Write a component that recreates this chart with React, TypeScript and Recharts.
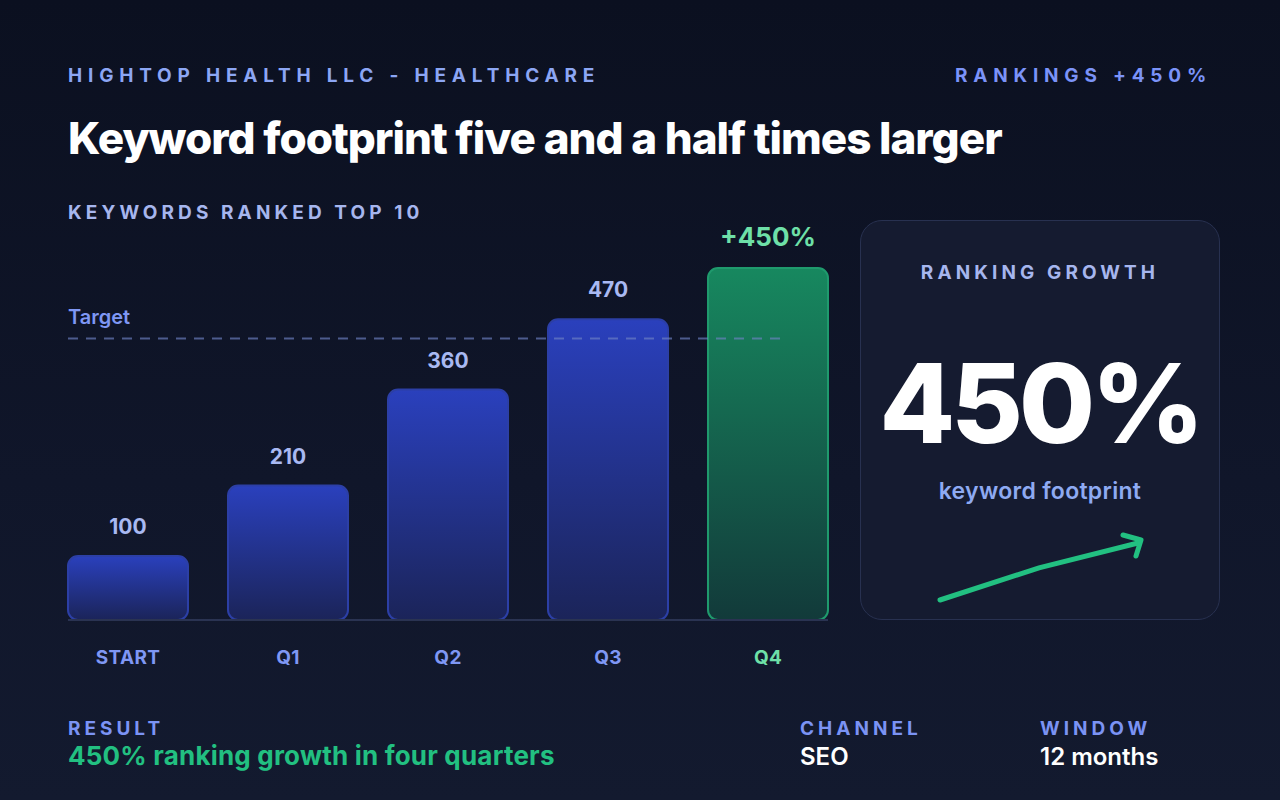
import React from "react";
import {
  Bar,
  BarChart,
  Cell,
  LabelList,
  Line,
  LineChart,
  ReferenceLine,
  XAxis,
  YAxis,
} from "recharts";

const quarters = ["START", "Q1", "Q2", "Q3", "Q4"];
const keywords = [100, 210, 360, 470, 550];
const target = 440;
const trend = [1, 1.9, 2.6];

const data = quarters.map((q, i) => ({ q, v: keywords[i] }));
const trendData = trend.map((t, i) => ({ i, t }));
const growth = Math.round(((keywords[4] - keywords[0]) / keywords[0]) * 100);

const font = "Inter, 'Noto Sans', sans-serif";
const green = "#22c081";
const eyebrow = {
  fontFamily: font,
  fontWeight: 700,
  fontSize: 19,
  letterSpacing: 5.8,
  margin: 0,
  position: "absolute" as const,
  whiteSpace: "nowrap" as const,
};

function BarLabel(props: any) {
  const { x, y, width, value, index } = props;
  const last = index === keywords.length - 1;
  return (
    <text
      x={x + width / 2}
      y={y - 22}
      textAnchor="middle"
      fontFamily={font}
      fontWeight={700}
      fontSize={last ? 26 : 21}
      fill={last ? "#6ee0a8" : "#a9b9f2"}
    >
      {last ? `+${growth}%` : value}
    </text>
  );
}

function QuarterTick(props: any) {
  const { x, y, payload, index } = props;
  const last = index === quarters.length - 1;
  return (
    <text
      x={x}
      y={y + 36}
      textAnchor="middle"
      fontFamily={font}
      fontWeight={700}
      fontSize={19}
      letterSpacing={0.3}
      fill={last ? "#6ee0a8" : "#7f97f4"}
    >
      {payload.value}
    </text>
  );
}

function TargetLine(props: any) {
  const { x1, x2, y1 } = props;
  return (
    <g>
      <line
        x1={x1 + 20}
        x2={x2 - 68}
        y1={y1}
        y2={y1}
        stroke="#6f82c4"
        strokeOpacity={0.65}
        strokeWidth={2}
        strokeDasharray="10 8"
      />
      <text x={x1 + 20} y={y1 - 14} fontFamily={font} fontWeight={600} fontSize={20} fill="#7f97f4">
        Target
      </text>
    </g>
  );
}

function BaseLine(props: any) {
  const { x1, x2, y1 } = props;
  return <line x1={x1 + 20} x2={x2 - 20} y1={y1} y2={y1} stroke="#2a3352" strokeWidth={2} />;
}

function ArrowDot(props: any) {
  const { cx, cy, index } = props;
  if (index !== trend.length - 1) return <g key={`d${index}`} />;
  return (
    <polyline
      key={`d${index}`}
      points={`${cx - 15},${cy - 8} ${cx + 3},${cy - 3} ${cx - 2},${cy + 13}`}
      fill="none"
      stroke={green}
      strokeWidth={5}
      strokeLinecap="round"
      strokeLinejoin="round"
    />
  );
}

export default function App() {
  return (
    <div
      style={{
        position: "absolute",
        left: 0,
        top: 0,
        width: 1280,
        height: 800,
        overflow: "hidden",
        background: "linear-gradient(180deg, #0b1020 0%, #10162a 60%, #131a2f 100%)",
        fontFamily: font,
      }}
    >
      <div style={{ ...eyebrow, left: 68, top: 64, color: "#8ca6f4" }}>HIGHTOP HEALTH LLC - HEALTHCARE</div>
      <div style={{ ...eyebrow, right: 68, top: 64, color: "#7b93f8" }}>RANKINGS +{growth}%</div>
      <div
        style={{
          position: "absolute",
          left: 68,
          top: 111,
          fontSize: 44,
          fontWeight: 800,
          letterSpacing: -1,
          color: "#ffffff",
          whiteSpace: "nowrap",
        }}
      >
        Keyword footprint five and a half times larger
      </div>
      <div style={{ ...eyebrow, left: 68, top: 201, color: "#a6b6ee", letterSpacing: 4.1 }}>
        KEYWORDS RANKED TOP 10
      </div>

      <div style={{ position: "absolute", left: 48, top: 200 }}>
        <BarChart width={800} height={480} data={data} margin={{ top: 36, right: 0, bottom: 0, left: 0 }}>
          <defs>
            <linearGradient id="blue-bar" x1="0" y1="0" x2="0" y2="1">
              <stop offset="0%" stopColor="#2a40bd" />
              <stop offset="100%" stopColor="#1b2459" />
            </linearGradient>
            <linearGradient id="green-bar" x1="0" y1="0" x2="0" y2="1">
              <stop offset="0%" stopColor="#17885f" />
              <stop offset="100%" stopColor="#123a3a" />
            </linearGradient>
          </defs>
          <XAxis
            dataKey="q"
            axisLine={false}
            tickLine={false}
            height={60}
            interval={0}
            tick={<QuarterTick />}
          />
          <YAxis hide domain={[0, 600]} />
          <ReferenceLine y={0} shape={<BaseLine />} />
          <Bar dataKey="v" barSize={120} radius={10} strokeWidth={2} isAnimationActive={false}>
            {data.map((d, i) => (
              <Cell
                key={d.q}
                fill={i === data.length - 1 ? "url(#green-bar)" : "url(#blue-bar)"}
                stroke={i === data.length - 1 ? "#1f9a6d" : "#2c3fa6"}
              />
            ))}
            <LabelList dataKey="v" content={<BarLabel />} />
          </Bar>
          <ReferenceLine y={target} shape={<TargetLine />} />
        </BarChart>
      </div>

      <div
        style={{
          position: "absolute",
          left: 860,
          top: 220,
          width: 360,
          height: 400,
          boxSizing: "border-box",
          borderRadius: 22,
          background: "#151b30",
          border: "1.5px solid #283150",
        }}
      >
        <div
          style={{
            position: "absolute",
            top: 40,
            width: "100%",
            textAlign: "center",
            fontSize: 19,
            fontWeight: 700,
            letterSpacing: 4.1,
            color: "#a6b6ee",
          }}
        >
          RANKING GROWTH
        </div>
        <div
          style={{
            position: "absolute",
            top: 112,
            width: "100%",
            textAlign: "center",
            fontSize: 110,
            fontWeight: 800,
            letterSpacing: -4,
            lineHeight: "140px",
            color: "#ffffff",
          }}
        >
          {growth}%
        </div>
        <div
          style={{
            position: "absolute",
            top: 256,
            width: "100%",
            textAlign: "center",
            fontSize: 23,
            fontWeight: 600,
            letterSpacing: 0.3,
            color: "#8eaaf2",
          }}
        >
          keyword footprint
        </div>
      </div>

      <div style={{ position: "absolute", left: 930, top: 523 }}>
        <LineChart width={228} height={87} data={trendData} margin={{ top: 20, right: 20, bottom: 10, left: 10 }}>
          <XAxis dataKey="i" hide />
          <YAxis hide domain={[1, 2.6]} />
          <Line
            type="linear"
            dataKey="t"
            stroke={green}
            strokeWidth={5}
            strokeLinecap="round"
            dot={ArrowDot}
            activeDot={false}
            isAnimationActive={false}
          />
        </LineChart>
      </div>

      <div style={{ ...eyebrow, left: 68, top: 717, color: "#7b93f4", letterSpacing: 4 }}>RESULT</div>
      <div
        style={{
          position: "absolute",
          left: 68,
          top: 740,
          fontSize: 26,
          fontWeight: 700,
          letterSpacing: 0.2,
          color: green,
          whiteSpace: "nowrap",
        }}
      >
        450% ranking growth in four quarters
      </div>
      <div style={{ ...eyebrow, left: 800, top: 717, color: "#7b93f4", letterSpacing: 4 }}>CHANNEL</div>
      <div style={{ position: "absolute", left: 800, top: 742, fontSize: 24, fontWeight: 600, color: "#fff" }}>
        SEO
      </div>
      <div style={{ ...eyebrow, left: 1040, top: 717, color: "#7b93f4", letterSpacing: 4 }}>WINDOW</div>
      <div style={{ position: "absolute", left: 1040, top: 742, fontSize: 24, fontWeight: 600, color: "#fff" }}>
        12 months
      </div>
    </div>
  );
}
